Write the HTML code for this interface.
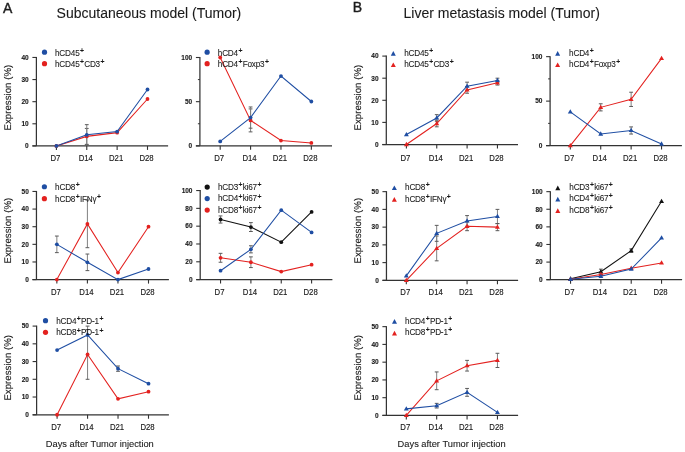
<!DOCTYPE html>
<html><head><meta charset="utf-8"><style>
html,body{margin:0;padding:0;background:#fff;}
svg{display:block;will-change:transform;}
text{font-family:"Liberation Sans", sans-serif;fill:#1a1a1a;}
.tl{font-size:6.5px;font-weight:bold;stroke:#1a1a1a;stroke-width:0.12px;}
.xl{font-size:8.6px;stroke:#1a1a1a;stroke-width:0.15px;}
.lg{font-size:8.2px;letter-spacing:-0.2px;stroke:#1a1a1a;stroke-width:0.08px;}
.sp{font-size:6.8px;font-weight:bold;letter-spacing:0;}
.yt{text-rendering:geometricPrecision;font-size:9.7px;stroke:#1a1a1a;stroke-width:0.12px;}
.ti{font-size:14px;stroke:#1a1a1a;stroke-width:0.1px;}
.pl{font-size:14px;stroke:#222;stroke-width:0.4px;}
.dx{font-size:9.3px;stroke:#1a1a1a;stroke-width:0.1px;}
</style></head><body>
<svg width="685" height="452" viewBox="0 0 685 452">
<text x="3.1" y="12.7" class="pl">A</text>
<text x="56.6" y="17.8" class="ti">Subcutaneous model (Tumor)</text>
<text x="352.7" y="11.9" class="pl">B</text>
<text x="403.5" y="18.1" class="ti">Liver metastasis model (Tumor)</text>
<text x="99.8" y="446.7" text-anchor="middle" class="dx">Days after Tumor injection</text>
<text x="451.6" y="446.7" text-anchor="middle" class="dx">Days after Tumor injection</text>
<line x1="36.4" y1="56.95" x2="36.4" y2="145.9" stroke="#333333" stroke-width="1.25"/>
<line x1="32.4" y1="145.9" x2="168.1" y2="145.9" stroke="#333333" stroke-width="1.25"/>
<line x1="32.4" y1="145.9" x2="36.4" y2="145.9" stroke="#333333" stroke-width="1.1"/>
<text x="28.7" y="148.2" text-anchor="end" class="tl">0</text>
<line x1="32.4" y1="123.79" x2="36.4" y2="123.79" stroke="#333333" stroke-width="1.1"/>
<text x="28.7" y="126.09" text-anchor="end" class="tl">10</text>
<line x1="32.4" y1="101.68" x2="36.4" y2="101.68" stroke="#333333" stroke-width="1.1"/>
<text x="28.7" y="103.98" text-anchor="end" class="tl">20</text>
<line x1="32.4" y1="79.56" x2="36.4" y2="79.56" stroke="#333333" stroke-width="1.1"/>
<text x="28.7" y="81.86" text-anchor="end" class="tl">30</text>
<line x1="32.4" y1="57.45" x2="36.4" y2="57.45" stroke="#333333" stroke-width="1.1"/>
<text x="28.7" y="59.75" text-anchor="end" class="tl">40</text>
<line x1="56.4" y1="145.9" x2="56.4" y2="149.9" stroke="#333333" stroke-width="1.1"/>
<text transform="translate(55.4,160.7) scale(0.9,1)" text-anchor="middle" class="xl">D7</text>
<line x1="86.77" y1="145.9" x2="86.77" y2="149.9" stroke="#333333" stroke-width="1.1"/>
<text transform="translate(85.77,160.7) scale(0.9,1)" text-anchor="middle" class="xl">D14</text>
<line x1="117.13" y1="145.9" x2="117.13" y2="149.9" stroke="#333333" stroke-width="1.1"/>
<text transform="translate(116.13,160.7) scale(0.9,1)" text-anchor="middle" class="xl">D21</text>
<line x1="147.5" y1="145.9" x2="147.5" y2="149.9" stroke="#333333" stroke-width="1.1"/>
<text transform="translate(146.5,160.7) scale(0.9,1)" text-anchor="middle" class="xl">D28</text>
<line x1="86.77" y1="128.43" x2="86.77" y2="144.35" stroke="#808080" stroke-width="1"/>
<line x1="84.87" y1="128.43" x2="88.67" y2="128.43" stroke="#5a5a5a" stroke-width="1"/>
<line x1="84.87" y1="144.35" x2="88.67" y2="144.35" stroke="#5a5a5a" stroke-width="1"/>
<line x1="86.77" y1="124.67" x2="86.77" y2="145.02" stroke="#808080" stroke-width="1"/>
<line x1="84.87" y1="124.67" x2="88.67" y2="124.67" stroke="#5a5a5a" stroke-width="1"/>
<line x1="84.87" y1="145.02" x2="88.67" y2="145.02" stroke="#5a5a5a" stroke-width="1"/>
<polyline points="56.4,145.9 86.77,136.39 117.13,132.63 147.5,99.02" fill="none" stroke="#e3211f" stroke-width="1.05"/>
<circle cx="56.4" cy="145.9" r="1.9" fill="#e3211f"/>
<circle cx="86.77" cy="136.39" r="1.9" fill="#e3211f"/>
<circle cx="117.13" cy="132.63" r="1.9" fill="#e3211f"/>
<circle cx="147.5" cy="99.02" r="1.9" fill="#e3211f"/>
<polyline points="56.4,145.9 86.77,134.84 117.13,131.53 147.5,89.51" fill="none" stroke="#1f4ea3" stroke-width="1.05"/>
<circle cx="56.4" cy="145.9" r="1.9" fill="#1f4ea3"/>
<circle cx="86.77" cy="134.84" r="1.9" fill="#1f4ea3"/>
<circle cx="117.13" cy="131.53" r="1.9" fill="#1f4ea3"/>
<circle cx="147.5" cy="89.51" r="1.9" fill="#1f4ea3"/>
<circle cx="44.5" cy="52.2" r="2.6" fill="#1f4ea3"/>
<text x="55" y="55.6" class="lg">hCD45<tspan class="sp" dx="0.5" dy="-2.85">+</tspan></text>
<circle cx="44.5" cy="63.7" r="2.6" fill="#e3211f"/>
<text x="55" y="67.1" class="lg">hCD45<tspan class="sp" dx="0.5" dy="-2.85">+</tspan><tspan dx="0.2" dy="2.85">CD3</tspan><tspan class="sp" dx="0.5" dy="-2.85">+</tspan></text>
<line x1="199.9" y1="57" x2="199.9" y2="145.85" stroke="#333333" stroke-width="1.25"/>
<line x1="195.9" y1="145.85" x2="332" y2="145.85" stroke="#333333" stroke-width="1.25"/>
<line x1="195.9" y1="145.85" x2="199.9" y2="145.85" stroke="#333333" stroke-width="1.1"/>
<text x="192.2" y="148.15" text-anchor="end" class="tl">0</text>
<line x1="195.9" y1="101.67" x2="199.9" y2="101.67" stroke="#333333" stroke-width="1.1"/>
<text x="192.2" y="103.97" text-anchor="end" class="tl">50</text>
<line x1="195.9" y1="57.5" x2="199.9" y2="57.5" stroke="#333333" stroke-width="1.1"/>
<text x="192.2" y="59.8" text-anchor="end" class="tl">100</text>
<line x1="197.9" y1="123.76" x2="199.9" y2="123.76" stroke="#333333" stroke-width="1"/>
<line x1="197.9" y1="79.59" x2="199.9" y2="79.59" stroke="#333333" stroke-width="1"/>
<line x1="220.2" y1="145.85" x2="220.2" y2="149.85" stroke="#333333" stroke-width="1.1"/>
<text transform="translate(219.2,160.7) scale(0.9,1)" text-anchor="middle" class="xl">D7</text>
<line x1="250.58" y1="145.85" x2="250.58" y2="149.85" stroke="#333333" stroke-width="1.1"/>
<text transform="translate(249.58,160.7) scale(0.9,1)" text-anchor="middle" class="xl">D14</text>
<line x1="280.97" y1="145.85" x2="280.97" y2="149.85" stroke="#333333" stroke-width="1.1"/>
<text transform="translate(279.97,160.7) scale(0.9,1)" text-anchor="middle" class="xl">D21</text>
<line x1="311.35" y1="145.85" x2="311.35" y2="149.85" stroke="#333333" stroke-width="1.1"/>
<text transform="translate(310.35,160.7) scale(0.9,1)" text-anchor="middle" class="xl">D28</text>
<line x1="250.58" y1="108.92" x2="250.58" y2="131.89" stroke="#808080" stroke-width="1"/>
<line x1="248.68" y1="108.92" x2="252.48" y2="108.92" stroke="#5a5a5a" stroke-width="1"/>
<line x1="248.68" y1="131.89" x2="252.48" y2="131.89" stroke="#5a5a5a" stroke-width="1"/>
<line x1="250.58" y1="106.98" x2="250.58" y2="128.18" stroke="#808080" stroke-width="1"/>
<line x1="248.68" y1="106.98" x2="252.48" y2="106.98" stroke="#5a5a5a" stroke-width="1"/>
<line x1="248.68" y1="128.18" x2="252.48" y2="128.18" stroke="#5a5a5a" stroke-width="1"/>
<polyline points="220.2,57.5 250.58,120.41 280.97,140.55 311.35,142.93" fill="none" stroke="#e3211f" stroke-width="1.05"/>
<circle cx="220.2" cy="57.5" r="1.9" fill="#e3211f"/>
<circle cx="250.58" cy="120.41" r="1.9" fill="#e3211f"/>
<circle cx="280.97" cy="140.55" r="1.9" fill="#e3211f"/>
<circle cx="311.35" cy="142.93" r="1.9" fill="#e3211f"/>
<polyline points="220.2,141.43 250.58,117.58 280.97,76.05 311.35,101.5" fill="none" stroke="#1f4ea3" stroke-width="1.05"/>
<circle cx="220.2" cy="141.43" r="1.9" fill="#1f4ea3"/>
<circle cx="250.58" cy="117.58" r="1.9" fill="#1f4ea3"/>
<circle cx="280.97" cy="76.05" r="1.9" fill="#1f4ea3"/>
<circle cx="311.35" cy="101.5" r="1.9" fill="#1f4ea3"/>
<circle cx="207.15" cy="52.2" r="2.6" fill="#1f4ea3"/>
<text x="217.8" y="55.6" class="lg">hCD4<tspan class="sp" dx="0.5" dy="-2.85">+</tspan></text>
<circle cx="207.15" cy="63.7" r="2.6" fill="#e3211f"/>
<text x="217.8" y="67.1" class="lg">hCD4<tspan class="sp" dx="0.5" dy="-2.85">+</tspan><tspan dx="0.2" dy="2.85">Foxp3</tspan><tspan class="sp" dx="0.5" dy="-2.85">+</tspan></text>
<line x1="386.3" y1="55.6" x2="386.3" y2="144.5" stroke="#333333" stroke-width="1.25"/>
<line x1="382.3" y1="144.5" x2="518" y2="144.5" stroke="#333333" stroke-width="1.25"/>
<line x1="382.3" y1="144.5" x2="386.3" y2="144.5" stroke="#333333" stroke-width="1.1"/>
<text x="378.6" y="146.8" text-anchor="end" class="tl">0</text>
<line x1="382.3" y1="122.4" x2="386.3" y2="122.4" stroke="#333333" stroke-width="1.1"/>
<text x="378.6" y="124.7" text-anchor="end" class="tl">10</text>
<line x1="382.3" y1="100.3" x2="386.3" y2="100.3" stroke="#333333" stroke-width="1.1"/>
<text x="378.6" y="102.6" text-anchor="end" class="tl">20</text>
<line x1="382.3" y1="78.2" x2="386.3" y2="78.2" stroke="#333333" stroke-width="1.1"/>
<text x="378.6" y="80.5" text-anchor="end" class="tl">30</text>
<line x1="382.3" y1="56.1" x2="386.3" y2="56.1" stroke="#333333" stroke-width="1.1"/>
<text x="378.6" y="58.4" text-anchor="end" class="tl">40</text>
<line x1="406.4" y1="144.5" x2="406.4" y2="148.5" stroke="#333333" stroke-width="1.1"/>
<text transform="translate(405.4,160.7) scale(0.9,1)" text-anchor="middle" class="xl">D7</text>
<line x1="436.75" y1="144.5" x2="436.75" y2="148.5" stroke="#333333" stroke-width="1.1"/>
<text transform="translate(435.75,160.7) scale(0.9,1)" text-anchor="middle" class="xl">D14</text>
<line x1="467.1" y1="144.5" x2="467.1" y2="148.5" stroke="#333333" stroke-width="1.1"/>
<text transform="translate(466.1,160.7) scale(0.9,1)" text-anchor="middle" class="xl">D21</text>
<line x1="497.45" y1="144.5" x2="497.45" y2="148.5" stroke="#333333" stroke-width="1.1"/>
<text transform="translate(496.45,160.7) scale(0.9,1)" text-anchor="middle" class="xl">D28</text>
<line x1="436.75" y1="120.19" x2="436.75" y2="126.82" stroke="#808080" stroke-width="1"/>
<line x1="434.85" y1="120.19" x2="438.65" y2="120.19" stroke="#5a5a5a" stroke-width="1"/>
<line x1="434.85" y1="126.82" x2="438.65" y2="126.82" stroke="#5a5a5a" stroke-width="1"/>
<line x1="467.1" y1="86.6" x2="467.1" y2="93.23" stroke="#808080" stroke-width="1"/>
<line x1="465.2" y1="86.6" x2="469" y2="86.6" stroke="#5a5a5a" stroke-width="1"/>
<line x1="465.2" y1="93.23" x2="469" y2="93.23" stroke="#5a5a5a" stroke-width="1"/>
<line x1="497.45" y1="80.63" x2="497.45" y2="85.05" stroke="#808080" stroke-width="1"/>
<line x1="495.55" y1="80.63" x2="499.35" y2="80.63" stroke="#5a5a5a" stroke-width="1"/>
<line x1="495.55" y1="85.05" x2="499.35" y2="85.05" stroke="#5a5a5a" stroke-width="1"/>
<line x1="436.75" y1="114.66" x2="436.75" y2="121.3" stroke="#808080" stroke-width="1"/>
<line x1="434.85" y1="114.66" x2="438.65" y2="114.66" stroke="#5a5a5a" stroke-width="1"/>
<line x1="434.85" y1="121.3" x2="438.65" y2="121.3" stroke="#5a5a5a" stroke-width="1"/>
<line x1="467.1" y1="82.18" x2="467.1" y2="90.13" stroke="#808080" stroke-width="1"/>
<line x1="465.2" y1="82.18" x2="469" y2="82.18" stroke="#5a5a5a" stroke-width="1"/>
<line x1="465.2" y1="90.13" x2="469" y2="90.13" stroke="#5a5a5a" stroke-width="1"/>
<line x1="497.45" y1="78.2" x2="497.45" y2="82.62" stroke="#808080" stroke-width="1"/>
<line x1="495.55" y1="78.2" x2="499.35" y2="78.2" stroke="#5a5a5a" stroke-width="1"/>
<line x1="495.55" y1="82.62" x2="499.35" y2="82.62" stroke="#5a5a5a" stroke-width="1"/>
<polyline points="406.4,144.5 436.75,123.5 467.1,89.91 497.45,82.84" fill="none" stroke="#e3211f" stroke-width="1.05"/>
<polygon points="406.4,141.83 408.85,146.13 403.95,146.13" fill="#e3211f"/>
<polygon points="436.75,120.84 439.2,125.14 434.3,125.14" fill="#e3211f"/>
<polygon points="467.1,87.25 469.55,91.55 464.65,91.55" fill="#e3211f"/>
<polygon points="497.45,80.17 499.9,84.47 495,84.47" fill="#e3211f"/>
<polyline points="406.4,134.56 436.75,117.98 467.1,86.16 497.45,80.41" fill="none" stroke="#1f4ea3" stroke-width="1.05"/>
<polygon points="406.4,131.89 408.85,136.19 403.95,136.19" fill="#1f4ea3"/>
<polygon points="436.75,115.31 439.2,119.61 434.3,119.61" fill="#1f4ea3"/>
<polygon points="467.1,83.49 469.55,87.79 464.65,87.79" fill="#1f4ea3"/>
<polygon points="497.45,77.74 499.9,82.04 495,82.04" fill="#1f4ea3"/>
<polygon points="393.3,51 395.8,55.7 390.8,55.7" fill="#1f4ea3"/>
<text x="404.2" y="55.6" class="lg">hCD45<tspan class="sp" dx="0.5" dy="-2.85">+</tspan></text>
<polygon points="393.3,62.4 395.8,67.1 390.8,67.1" fill="#e3211f"/>
<text x="404.2" y="67" class="lg">hCD45<tspan class="sp" dx="0.5" dy="-2.85">+</tspan><tspan dx="0.2" dy="2.85">CD3</tspan><tspan class="sp" dx="0.5" dy="-2.85">+</tspan></text>
<line x1="550.1" y1="56.15" x2="550.1" y2="145.6" stroke="#333333" stroke-width="1.25"/>
<line x1="546.1" y1="145.6" x2="681.9" y2="145.6" stroke="#333333" stroke-width="1.25"/>
<line x1="546.1" y1="145.6" x2="550.1" y2="145.6" stroke="#333333" stroke-width="1.1"/>
<text x="542.4" y="147.9" text-anchor="end" class="tl">0</text>
<line x1="546.1" y1="101.12" x2="550.1" y2="101.12" stroke="#333333" stroke-width="1.1"/>
<text x="542.4" y="103.42" text-anchor="end" class="tl">50</text>
<line x1="546.1" y1="56.65" x2="550.1" y2="56.65" stroke="#333333" stroke-width="1.1"/>
<text x="542.4" y="58.95" text-anchor="end" class="tl">100</text>
<line x1="548.1" y1="123.36" x2="550.1" y2="123.36" stroke="#333333" stroke-width="1"/>
<line x1="548.1" y1="78.89" x2="550.1" y2="78.89" stroke="#333333" stroke-width="1"/>
<line x1="570.3" y1="145.6" x2="570.3" y2="149.6" stroke="#333333" stroke-width="1.1"/>
<text transform="translate(569.3,160.7) scale(0.9,1)" text-anchor="middle" class="xl">D7</text>
<line x1="600.72" y1="145.6" x2="600.72" y2="149.6" stroke="#333333" stroke-width="1.1"/>
<text transform="translate(599.72,160.7) scale(0.9,1)" text-anchor="middle" class="xl">D14</text>
<line x1="631.13" y1="145.6" x2="631.13" y2="149.6" stroke="#333333" stroke-width="1.1"/>
<text transform="translate(630.13,160.7) scale(0.9,1)" text-anchor="middle" class="xl">D21</text>
<line x1="661.55" y1="145.6" x2="661.55" y2="149.6" stroke="#333333" stroke-width="1.1"/>
<text transform="translate(660.55,160.7) scale(0.9,1)" text-anchor="middle" class="xl">D28</text>
<line x1="600.72" y1="103.79" x2="600.72" y2="110.91" stroke="#808080" stroke-width="1"/>
<line x1="598.82" y1="103.79" x2="602.62" y2="103.79" stroke="#5a5a5a" stroke-width="1"/>
<line x1="598.82" y1="110.91" x2="602.62" y2="110.91" stroke="#5a5a5a" stroke-width="1"/>
<line x1="631.13" y1="92.23" x2="631.13" y2="106.46" stroke="#808080" stroke-width="1"/>
<line x1="629.23" y1="92.23" x2="633.03" y2="92.23" stroke="#5a5a5a" stroke-width="1"/>
<line x1="629.23" y1="106.46" x2="633.03" y2="106.46" stroke="#5a5a5a" stroke-width="1"/>
<line x1="631.13" y1="126.92" x2="631.13" y2="134.04" stroke="#808080" stroke-width="1"/>
<line x1="629.23" y1="126.92" x2="633.03" y2="126.92" stroke="#5a5a5a" stroke-width="1"/>
<line x1="629.23" y1="134.04" x2="633.03" y2="134.04" stroke="#5a5a5a" stroke-width="1"/>
<polyline points="570.3,145.6 600.72,107.35 631.13,99.35 661.55,58.43" fill="none" stroke="#e3211f" stroke-width="1.05"/>
<polygon points="570.3,142.93 572.75,147.23 567.85,147.23" fill="#e3211f"/>
<polygon points="600.72,104.69 603.17,108.99 598.27,108.99" fill="#e3211f"/>
<polygon points="631.13,96.68 633.58,100.98 628.68,100.98" fill="#e3211f"/>
<polygon points="661.55,55.76 664,60.06 659.1,60.06" fill="#e3211f"/>
<polyline points="570.3,111.8 600.72,134.04 631.13,130.48 661.55,144" fill="none" stroke="#1f4ea3" stroke-width="1.05"/>
<polygon points="570.3,109.13 572.75,113.43 567.85,113.43" fill="#1f4ea3"/>
<polygon points="600.72,131.37 603.17,135.67 598.27,135.67" fill="#1f4ea3"/>
<polygon points="631.13,127.81 633.58,132.11 628.68,132.11" fill="#1f4ea3"/>
<polygon points="661.55,141.33 664,145.63 659.1,145.63" fill="#1f4ea3"/>
<polygon points="557.65,51 560.15,55.7 555.15,55.7" fill="#1f4ea3"/>
<text x="569.1" y="55.6" class="lg">hCD4<tspan class="sp" dx="0.5" dy="-2.85">+</tspan></text>
<polygon points="557.65,62.4 560.15,67.1 555.15,67.1" fill="#e3211f"/>
<text x="569.1" y="67" class="lg">hCD4<tspan class="sp" dx="0.5" dy="-2.85">+</tspan><tspan dx="0.2" dy="2.85">Foxp3</tspan><tspan class="sp" dx="0.5" dy="-2.85">+</tspan></text>
<line x1="36.45" y1="190.95" x2="36.45" y2="279.6" stroke="#333333" stroke-width="1.25"/>
<line x1="32.45" y1="279.6" x2="168.9" y2="279.6" stroke="#333333" stroke-width="1.25"/>
<line x1="32.45" y1="279.6" x2="36.45" y2="279.6" stroke="#333333" stroke-width="1.1"/>
<text x="28.75" y="281.9" text-anchor="end" class="tl">0</text>
<line x1="32.45" y1="261.97" x2="36.45" y2="261.97" stroke="#333333" stroke-width="1.1"/>
<text x="28.75" y="264.27" text-anchor="end" class="tl">10</text>
<line x1="32.45" y1="244.34" x2="36.45" y2="244.34" stroke="#333333" stroke-width="1.1"/>
<text x="28.75" y="246.64" text-anchor="end" class="tl">20</text>
<line x1="32.45" y1="226.71" x2="36.45" y2="226.71" stroke="#333333" stroke-width="1.1"/>
<text x="28.75" y="229.01" text-anchor="end" class="tl">30</text>
<line x1="32.45" y1="209.08" x2="36.45" y2="209.08" stroke="#333333" stroke-width="1.1"/>
<text x="28.75" y="211.38" text-anchor="end" class="tl">40</text>
<line x1="32.45" y1="191.45" x2="36.45" y2="191.45" stroke="#333333" stroke-width="1.1"/>
<text x="28.75" y="193.75" text-anchor="end" class="tl">50</text>
<line x1="56.85" y1="279.6" x2="56.85" y2="283.6" stroke="#333333" stroke-width="1.1"/>
<text transform="translate(55.85,294.8) scale(0.9,1)" text-anchor="middle" class="xl">D7</text>
<line x1="87.4" y1="279.6" x2="87.4" y2="283.6" stroke="#333333" stroke-width="1.1"/>
<text transform="translate(86.4,294.8) scale(0.9,1)" text-anchor="middle" class="xl">D14</text>
<line x1="117.95" y1="279.6" x2="117.95" y2="283.6" stroke="#333333" stroke-width="1.1"/>
<text transform="translate(116.95,294.8) scale(0.9,1)" text-anchor="middle" class="xl">D21</text>
<line x1="148.5" y1="279.6" x2="148.5" y2="283.6" stroke="#333333" stroke-width="1.1"/>
<text transform="translate(147.5,294.8) scale(0.9,1)" text-anchor="middle" class="xl">D28</text>
<line x1="87.4" y1="200.09" x2="87.4" y2="247.69" stroke="#808080" stroke-width="1"/>
<line x1="85.5" y1="200.09" x2="89.3" y2="200.09" stroke="#5a5a5a" stroke-width="1"/>
<line x1="85.5" y1="247.69" x2="89.3" y2="247.69" stroke="#5a5a5a" stroke-width="1"/>
<line x1="56.85" y1="236.05" x2="56.85" y2="252.63" stroke="#808080" stroke-width="1"/>
<line x1="54.95" y1="236.05" x2="58.75" y2="236.05" stroke="#5a5a5a" stroke-width="1"/>
<line x1="54.95" y1="252.63" x2="58.75" y2="252.63" stroke="#5a5a5a" stroke-width="1"/>
<line x1="87.4" y1="254.04" x2="87.4" y2="270.61" stroke="#808080" stroke-width="1"/>
<line x1="85.5" y1="254.04" x2="89.3" y2="254.04" stroke="#5a5a5a" stroke-width="1"/>
<line x1="85.5" y1="270.61" x2="89.3" y2="270.61" stroke="#5a5a5a" stroke-width="1"/>
<polyline points="56.85,279.6 87.4,223.89 117.95,272.55 148.5,226.71" fill="none" stroke="#e3211f" stroke-width="1.05"/>
<circle cx="56.85" cy="279.6" r="1.9" fill="#e3211f"/>
<circle cx="87.4" cy="223.89" r="1.9" fill="#e3211f"/>
<circle cx="117.95" cy="272.55" r="1.9" fill="#e3211f"/>
<circle cx="148.5" cy="226.71" r="1.9" fill="#e3211f"/>
<polyline points="56.85,244.34 87.4,262.32 117.95,279.6 148.5,269.02" fill="none" stroke="#1f4ea3" stroke-width="1.05"/>
<circle cx="56.85" cy="244.34" r="1.9" fill="#1f4ea3"/>
<circle cx="87.4" cy="262.32" r="1.9" fill="#1f4ea3"/>
<circle cx="117.95" cy="279.6" r="1.9" fill="#1f4ea3"/>
<circle cx="148.5" cy="269.02" r="1.9" fill="#1f4ea3"/>
<circle cx="44.4" cy="186.75" r="2.6" fill="#1f4ea3"/>
<text x="55.1" y="189.8" class="lg">hCD8<tspan class="sp" dx="0.5" dy="-2.85">+</tspan></text>
<circle cx="44.4" cy="198.65" r="2.6" fill="#e3211f"/>
<text x="55.1" y="201.7" class="lg">hCD8<tspan class="sp" dx="0.5" dy="-2.85">+</tspan><tspan dx="0.2" dy="2.85">IFNγ</tspan><tspan class="sp" dx="0.5" dy="-2.85">+</tspan></text>
<line x1="200.2" y1="190.05" x2="200.2" y2="279.6" stroke="#333333" stroke-width="1.25"/>
<line x1="196.2" y1="279.6" x2="332.4" y2="279.6" stroke="#333333" stroke-width="1.25"/>
<line x1="196.2" y1="279.6" x2="200.2" y2="279.6" stroke="#333333" stroke-width="1.1"/>
<text x="192.5" y="281.9" text-anchor="end" class="tl">0</text>
<line x1="196.2" y1="261.79" x2="200.2" y2="261.79" stroke="#333333" stroke-width="1.1"/>
<text x="192.5" y="264.09" text-anchor="end" class="tl">20</text>
<line x1="196.2" y1="243.98" x2="200.2" y2="243.98" stroke="#333333" stroke-width="1.1"/>
<text x="192.5" y="246.28" text-anchor="end" class="tl">40</text>
<line x1="196.2" y1="226.17" x2="200.2" y2="226.17" stroke="#333333" stroke-width="1.1"/>
<text x="192.5" y="228.47" text-anchor="end" class="tl">60</text>
<line x1="196.2" y1="208.36" x2="200.2" y2="208.36" stroke="#333333" stroke-width="1.1"/>
<text x="192.5" y="210.66" text-anchor="end" class="tl">80</text>
<line x1="196.2" y1="190.55" x2="200.2" y2="190.55" stroke="#333333" stroke-width="1.1"/>
<text x="192.5" y="192.85" text-anchor="end" class="tl">100</text>
<line x1="220.55" y1="279.6" x2="220.55" y2="283.6" stroke="#333333" stroke-width="1.1"/>
<text transform="translate(219.55,294.8) scale(0.9,1)" text-anchor="middle" class="xl">D7</text>
<line x1="250.9" y1="279.6" x2="250.9" y2="283.6" stroke="#333333" stroke-width="1.1"/>
<text transform="translate(249.9,294.8) scale(0.9,1)" text-anchor="middle" class="xl">D14</text>
<line x1="281.25" y1="279.6" x2="281.25" y2="283.6" stroke="#333333" stroke-width="1.1"/>
<text transform="translate(280.25,294.8) scale(0.9,1)" text-anchor="middle" class="xl">D21</text>
<line x1="311.6" y1="279.6" x2="311.6" y2="283.6" stroke="#333333" stroke-width="1.1"/>
<text transform="translate(310.6,294.8) scale(0.9,1)" text-anchor="middle" class="xl">D28</text>
<line x1="220.55" y1="215.93" x2="220.55" y2="223.05" stroke="#808080" stroke-width="1"/>
<line x1="218.65" y1="215.93" x2="222.45" y2="215.93" stroke="#5a5a5a" stroke-width="1"/>
<line x1="218.65" y1="223.05" x2="222.45" y2="223.05" stroke="#5a5a5a" stroke-width="1"/>
<line x1="250.9" y1="222.61" x2="250.9" y2="231.51" stroke="#808080" stroke-width="1"/>
<line x1="249" y1="222.61" x2="252.8" y2="222.61" stroke="#5a5a5a" stroke-width="1"/>
<line x1="249" y1="231.51" x2="252.8" y2="231.51" stroke="#5a5a5a" stroke-width="1"/>
<line x1="220.55" y1="253.33" x2="220.55" y2="262.24" stroke="#808080" stroke-width="1"/>
<line x1="218.65" y1="253.33" x2="222.45" y2="253.33" stroke="#5a5a5a" stroke-width="1"/>
<line x1="218.65" y1="262.24" x2="222.45" y2="262.24" stroke="#5a5a5a" stroke-width="1"/>
<line x1="250.9" y1="256.89" x2="250.9" y2="267.58" stroke="#808080" stroke-width="1"/>
<line x1="249" y1="256.89" x2="252.8" y2="256.89" stroke="#5a5a5a" stroke-width="1"/>
<line x1="249" y1="267.58" x2="252.8" y2="267.58" stroke="#5a5a5a" stroke-width="1"/>
<line x1="250.9" y1="245.76" x2="250.9" y2="252.89" stroke="#808080" stroke-width="1"/>
<line x1="249" y1="245.76" x2="252.8" y2="245.76" stroke="#5a5a5a" stroke-width="1"/>
<line x1="249" y1="252.89" x2="252.8" y2="252.89" stroke="#5a5a5a" stroke-width="1"/>
<polyline points="220.55,219.49 250.9,227.06 281.25,242.2 311.6,211.92" fill="none" stroke="#111111" stroke-width="1.05"/>
<circle cx="220.55" cy="219.49" r="1.9" fill="#111111"/>
<circle cx="250.9" cy="227.06" r="1.9" fill="#111111"/>
<circle cx="281.25" cy="242.2" r="1.9" fill="#111111"/>
<circle cx="311.6" cy="211.92" r="1.9" fill="#111111"/>
<polyline points="220.55,257.78 250.9,262.24 281.25,271.59 311.6,264.64" fill="none" stroke="#e3211f" stroke-width="1.05"/>
<circle cx="220.55" cy="257.78" r="1.9" fill="#e3211f"/>
<circle cx="250.9" cy="262.24" r="1.9" fill="#e3211f"/>
<circle cx="281.25" cy="271.59" r="1.9" fill="#e3211f"/>
<circle cx="311.6" cy="264.64" r="1.9" fill="#e3211f"/>
<polyline points="220.55,270.7 250.9,249.32 281.25,210.14 311.6,232.4" fill="none" stroke="#1f4ea3" stroke-width="1.05"/>
<circle cx="220.55" cy="270.7" r="1.9" fill="#1f4ea3"/>
<circle cx="250.9" cy="249.32" r="1.9" fill="#1f4ea3"/>
<circle cx="281.25" cy="210.14" r="1.9" fill="#1f4ea3"/>
<circle cx="311.6" cy="232.4" r="1.9" fill="#1f4ea3"/>
<circle cx="207.2" cy="187.1" r="2.6" fill="#111111"/>
<text x="217.9" y="189.9" class="lg">hCD3<tspan class="sp" dx="0.5" dy="-2.85">+</tspan><tspan dx="0.2" dy="2.85">ki67</tspan><tspan class="sp" dx="0.5" dy="-2.85">+</tspan></text>
<circle cx="207.2" cy="198.6" r="2.6" fill="#1f4ea3"/>
<text x="217.9" y="201.4" class="lg">hCD4<tspan class="sp" dx="0.5" dy="-2.85">+</tspan><tspan dx="0.2" dy="2.85">ki67</tspan><tspan class="sp" dx="0.5" dy="-2.85">+</tspan></text>
<circle cx="207.2" cy="210.1" r="2.6" fill="#e3211f"/>
<text x="217.9" y="212.9" class="lg">hCD8<tspan class="sp" dx="0.5" dy="-2.85">+</tspan><tspan dx="0.2" dy="2.85">ki67</tspan><tspan class="sp" dx="0.5" dy="-2.85">+</tspan></text>
<line x1="386.45" y1="191.15" x2="386.45" y2="280.35" stroke="#333333" stroke-width="1.25"/>
<line x1="382.45" y1="280.35" x2="518.1" y2="280.35" stroke="#333333" stroke-width="1.25"/>
<line x1="382.45" y1="280.35" x2="386.45" y2="280.35" stroke="#333333" stroke-width="1.1"/>
<text x="378.75" y="282.65" text-anchor="end" class="tl">0</text>
<line x1="382.45" y1="262.61" x2="386.45" y2="262.61" stroke="#333333" stroke-width="1.1"/>
<text x="378.75" y="264.91" text-anchor="end" class="tl">10</text>
<line x1="382.45" y1="244.87" x2="386.45" y2="244.87" stroke="#333333" stroke-width="1.1"/>
<text x="378.75" y="247.17" text-anchor="end" class="tl">20</text>
<line x1="382.45" y1="227.13" x2="386.45" y2="227.13" stroke="#333333" stroke-width="1.1"/>
<text x="378.75" y="229.43" text-anchor="end" class="tl">30</text>
<line x1="382.45" y1="209.39" x2="386.45" y2="209.39" stroke="#333333" stroke-width="1.1"/>
<text x="378.75" y="211.69" text-anchor="end" class="tl">40</text>
<line x1="382.45" y1="191.65" x2="386.45" y2="191.65" stroke="#333333" stroke-width="1.1"/>
<text x="378.75" y="193.95" text-anchor="end" class="tl">50</text>
<line x1="406.3" y1="280.35" x2="406.3" y2="284.35" stroke="#333333" stroke-width="1.1"/>
<text transform="translate(405.3,294.8) scale(0.9,1)" text-anchor="middle" class="xl">D7</text>
<line x1="436.68" y1="280.35" x2="436.68" y2="284.35" stroke="#333333" stroke-width="1.1"/>
<text transform="translate(435.68,294.8) scale(0.9,1)" text-anchor="middle" class="xl">D14</text>
<line x1="467.07" y1="280.35" x2="467.07" y2="284.35" stroke="#333333" stroke-width="1.1"/>
<text transform="translate(466.07,294.8) scale(0.9,1)" text-anchor="middle" class="xl">D21</text>
<line x1="497.45" y1="280.35" x2="497.45" y2="284.35" stroke="#333333" stroke-width="1.1"/>
<text transform="translate(496.45,294.8) scale(0.9,1)" text-anchor="middle" class="xl">D28</text>
<line x1="436.68" y1="236" x2="436.68" y2="260.84" stroke="#808080" stroke-width="1"/>
<line x1="434.78" y1="236" x2="438.58" y2="236" stroke="#5a5a5a" stroke-width="1"/>
<line x1="434.78" y1="260.84" x2="438.58" y2="260.84" stroke="#5a5a5a" stroke-width="1"/>
<line x1="467.07" y1="221.81" x2="467.07" y2="230.68" stroke="#808080" stroke-width="1"/>
<line x1="465.17" y1="221.81" x2="468.97" y2="221.81" stroke="#5a5a5a" stroke-width="1"/>
<line x1="465.17" y1="230.68" x2="468.97" y2="230.68" stroke="#5a5a5a" stroke-width="1"/>
<line x1="497.45" y1="223.58" x2="497.45" y2="230.68" stroke="#808080" stroke-width="1"/>
<line x1="495.55" y1="223.58" x2="499.35" y2="223.58" stroke="#5a5a5a" stroke-width="1"/>
<line x1="495.55" y1="230.68" x2="499.35" y2="230.68" stroke="#5a5a5a" stroke-width="1"/>
<line x1="436.68" y1="225.36" x2="436.68" y2="241.32" stroke="#808080" stroke-width="1"/>
<line x1="434.78" y1="225.36" x2="438.58" y2="225.36" stroke="#5a5a5a" stroke-width="1"/>
<line x1="434.78" y1="241.32" x2="438.58" y2="241.32" stroke="#5a5a5a" stroke-width="1"/>
<line x1="467.07" y1="215.6" x2="467.07" y2="226.24" stroke="#808080" stroke-width="1"/>
<line x1="465.17" y1="215.6" x2="468.97" y2="215.6" stroke="#5a5a5a" stroke-width="1"/>
<line x1="465.17" y1="226.24" x2="468.97" y2="226.24" stroke="#5a5a5a" stroke-width="1"/>
<line x1="497.45" y1="209.39" x2="497.45" y2="223.58" stroke="#808080" stroke-width="1"/>
<line x1="495.55" y1="209.39" x2="499.35" y2="209.39" stroke="#5a5a5a" stroke-width="1"/>
<line x1="495.55" y1="223.58" x2="499.35" y2="223.58" stroke="#5a5a5a" stroke-width="1"/>
<polyline points="406.3,280.35 436.68,248.42 467.07,226.24 497.45,227.13" fill="none" stroke="#e3211f" stroke-width="1.05"/>
<polygon points="406.3,277.68 408.75,281.98 403.85,281.98" fill="#e3211f"/>
<polygon points="436.68,245.75 439.13,250.05 434.23,250.05" fill="#e3211f"/>
<polygon points="467.07,223.58 469.52,227.88 464.62,227.88" fill="#e3211f"/>
<polygon points="497.45,224.46 499.9,228.76 495,228.76" fill="#e3211f"/>
<polyline points="406.3,275.92 436.68,233.34 467.07,220.92 497.45,216.49" fill="none" stroke="#1f4ea3" stroke-width="1.05"/>
<polygon points="406.3,273.25 408.75,277.55 403.85,277.55" fill="#1f4ea3"/>
<polygon points="436.68,230.67 439.13,234.97 434.23,234.97" fill="#1f4ea3"/>
<polygon points="467.07,218.25 469.52,222.55 464.62,222.55" fill="#1f4ea3"/>
<polygon points="497.45,213.82 499.9,218.12 495,218.12" fill="#1f4ea3"/>
<polygon points="394.35,185.4 396.85,190.1 391.85,190.1" fill="#1f4ea3"/>
<text x="405.05" y="190" class="lg">hCD8<tspan class="sp" dx="0.5" dy="-2.85">+</tspan></text>
<polygon points="394.35,197.1 396.85,201.8 391.85,201.8" fill="#e3211f"/>
<text x="405.05" y="201.7" class="lg">hCD8<tspan class="sp" dx="0.5" dy="-2.85">+</tspan><tspan dx="0.2" dy="2.85">IFNγ</tspan><tspan class="sp" dx="0.5" dy="-2.85">+</tspan></text>
<line x1="550.35" y1="191.15" x2="550.35" y2="279.7" stroke="#333333" stroke-width="1.25"/>
<line x1="546.35" y1="279.7" x2="682.1" y2="279.7" stroke="#333333" stroke-width="1.25"/>
<line x1="546.35" y1="279.7" x2="550.35" y2="279.7" stroke="#333333" stroke-width="1.1"/>
<text x="542.65" y="282" text-anchor="end" class="tl">0</text>
<line x1="546.35" y1="262.09" x2="550.35" y2="262.09" stroke="#333333" stroke-width="1.1"/>
<text x="542.65" y="264.39" text-anchor="end" class="tl">20</text>
<line x1="546.35" y1="244.48" x2="550.35" y2="244.48" stroke="#333333" stroke-width="1.1"/>
<text x="542.65" y="246.78" text-anchor="end" class="tl">40</text>
<line x1="546.35" y1="226.87" x2="550.35" y2="226.87" stroke="#333333" stroke-width="1.1"/>
<text x="542.65" y="229.17" text-anchor="end" class="tl">60</text>
<line x1="546.35" y1="209.26" x2="550.35" y2="209.26" stroke="#333333" stroke-width="1.1"/>
<text x="542.65" y="211.56" text-anchor="end" class="tl">80</text>
<line x1="546.35" y1="191.65" x2="550.35" y2="191.65" stroke="#333333" stroke-width="1.1"/>
<text x="542.65" y="193.95" text-anchor="end" class="tl">100</text>
<line x1="570.55" y1="279.7" x2="570.55" y2="283.7" stroke="#333333" stroke-width="1.1"/>
<text transform="translate(569.55,294.8) scale(0.9,1)" text-anchor="middle" class="xl">D7</text>
<line x1="600.88" y1="279.7" x2="600.88" y2="283.7" stroke="#333333" stroke-width="1.1"/>
<text transform="translate(599.88,294.8) scale(0.9,1)" text-anchor="middle" class="xl">D14</text>
<line x1="631.22" y1="279.7" x2="631.22" y2="283.7" stroke="#333333" stroke-width="1.1"/>
<text transform="translate(630.22,294.8) scale(0.9,1)" text-anchor="middle" class="xl">D21</text>
<line x1="661.55" y1="279.7" x2="661.55" y2="283.7" stroke="#333333" stroke-width="1.1"/>
<text transform="translate(660.55,294.8) scale(0.9,1)" text-anchor="middle" class="xl">D28</text>
<line x1="600.88" y1="269.13" x2="600.88" y2="274.42" stroke="#808080" stroke-width="1"/>
<line x1="598.98" y1="269.13" x2="602.78" y2="269.13" stroke="#5a5a5a" stroke-width="1"/>
<line x1="598.98" y1="274.42" x2="602.78" y2="274.42" stroke="#5a5a5a" stroke-width="1"/>
<line x1="631.22" y1="248.88" x2="631.22" y2="252.4" stroke="#808080" stroke-width="1"/>
<line x1="629.32" y1="248.88" x2="633.12" y2="248.88" stroke="#5a5a5a" stroke-width="1"/>
<line x1="629.32" y1="252.4" x2="633.12" y2="252.4" stroke="#5a5a5a" stroke-width="1"/>
<polyline points="570.55,278.82 600.88,271.78 631.22,250.64 661.55,201.34" fill="none" stroke="#111111" stroke-width="1.05"/>
<polygon points="570.55,276.15 573,280.45 568.1,280.45" fill="#111111"/>
<polygon points="600.88,269.11 603.33,273.41 598.43,273.41" fill="#111111"/>
<polygon points="631.22,247.98 633.67,252.28 628.77,252.28" fill="#111111"/>
<polygon points="661.55,198.67 664,202.97 659.1,202.97" fill="#111111"/>
<polyline points="570.55,279.26 600.88,274.42 631.22,268.25 661.55,262.97" fill="none" stroke="#e3211f" stroke-width="1.05"/>
<polygon points="570.55,276.59 573,280.89 568.1,280.89" fill="#e3211f"/>
<polygon points="600.88,271.75 603.33,276.05 598.43,276.05" fill="#e3211f"/>
<polygon points="631.22,265.59 633.67,269.89 628.77,269.89" fill="#e3211f"/>
<polygon points="661.55,260.3 664,264.6 659.1,264.6" fill="#e3211f"/>
<polyline points="570.55,279.26 600.88,276.35 631.22,269.13 661.55,237.88" fill="none" stroke="#1f4ea3" stroke-width="1.05"/>
<polygon points="570.55,276.59 573,280.89 568.1,280.89" fill="#1f4ea3"/>
<polygon points="600.88,273.69 603.33,277.99 598.43,277.99" fill="#1f4ea3"/>
<polygon points="631.22,266.47 633.67,270.77 628.77,270.77" fill="#1f4ea3"/>
<polygon points="661.55,235.21 664,239.51 659.1,239.51" fill="#1f4ea3"/>
<polygon points="557.8,185.6 560.3,190.3 555.3,190.3" fill="#111111"/>
<text x="569.3" y="190.2" class="lg">hCD3<tspan class="sp" dx="0.5" dy="-2.85">+</tspan><tspan dx="0.2" dy="2.85">ki67</tspan><tspan class="sp" dx="0.5" dy="-2.85">+</tspan></text>
<polygon points="557.8,196.7 560.3,201.4 555.3,201.4" fill="#1f4ea3"/>
<text x="569.3" y="201.3" class="lg">hCD4<tspan class="sp" dx="0.5" dy="-2.85">+</tspan><tspan dx="0.2" dy="2.85">ki67</tspan><tspan class="sp" dx="0.5" dy="-2.85">+</tspan></text>
<polygon points="557.8,208.3 560.3,213 555.3,213" fill="#e3211f"/>
<text x="569.3" y="212.9" class="lg">hCD8<tspan class="sp" dx="0.5" dy="-2.85">+</tspan><tspan dx="0.2" dy="2.85">ki67</tspan><tspan class="sp" dx="0.5" dy="-2.85">+</tspan></text>
<line x1="36.6" y1="325.6" x2="36.6" y2="414.75" stroke="#333333" stroke-width="1.25"/>
<line x1="32.6" y1="414.75" x2="168.9" y2="414.75" stroke="#333333" stroke-width="1.25"/>
<line x1="32.6" y1="414.75" x2="36.6" y2="414.75" stroke="#333333" stroke-width="1.1"/>
<text x="28.9" y="417.05" text-anchor="end" class="tl">0</text>
<line x1="32.6" y1="397.02" x2="36.6" y2="397.02" stroke="#333333" stroke-width="1.1"/>
<text x="28.9" y="399.32" text-anchor="end" class="tl">10</text>
<line x1="32.6" y1="379.29" x2="36.6" y2="379.29" stroke="#333333" stroke-width="1.1"/>
<text x="28.9" y="381.59" text-anchor="end" class="tl">20</text>
<line x1="32.6" y1="361.56" x2="36.6" y2="361.56" stroke="#333333" stroke-width="1.1"/>
<text x="28.9" y="363.86" text-anchor="end" class="tl">30</text>
<line x1="32.6" y1="343.83" x2="36.6" y2="343.83" stroke="#333333" stroke-width="1.1"/>
<text x="28.9" y="346.13" text-anchor="end" class="tl">40</text>
<line x1="32.6" y1="326.1" x2="36.6" y2="326.1" stroke="#333333" stroke-width="1.1"/>
<text x="28.9" y="328.4" text-anchor="end" class="tl">50</text>
<line x1="57.1" y1="414.75" x2="57.1" y2="418.75" stroke="#333333" stroke-width="1.1"/>
<text transform="translate(56.1,430.2) scale(0.9,1)" text-anchor="middle" class="xl">D7</text>
<line x1="87.57" y1="414.75" x2="87.57" y2="418.75" stroke="#333333" stroke-width="1.1"/>
<text transform="translate(86.57,430.2) scale(0.9,1)" text-anchor="middle" class="xl">D14</text>
<line x1="118.03" y1="414.75" x2="118.03" y2="418.75" stroke="#333333" stroke-width="1.1"/>
<text transform="translate(117.03,430.2) scale(0.9,1)" text-anchor="middle" class="xl">D21</text>
<line x1="148.5" y1="414.75" x2="148.5" y2="418.75" stroke="#333333" stroke-width="1.1"/>
<text transform="translate(147.5,430.2) scale(0.9,1)" text-anchor="middle" class="xl">D28</text>
<line x1="87.57" y1="329.65" x2="87.57" y2="379.29" stroke="#808080" stroke-width="1"/>
<line x1="85.67" y1="329.65" x2="89.47" y2="329.65" stroke="#5a5a5a" stroke-width="1"/>
<line x1="85.67" y1="379.29" x2="89.47" y2="379.29" stroke="#5a5a5a" stroke-width="1"/>
<line x1="87.57" y1="326.1" x2="87.57" y2="334.97" stroke="#808080" stroke-width="1"/>
<line x1="85.67" y1="326.1" x2="89.47" y2="326.1" stroke="#5a5a5a" stroke-width="1"/>
<line x1="118.03" y1="365.99" x2="118.03" y2="371.31" stroke="#808080" stroke-width="1"/>
<line x1="116.13" y1="365.99" x2="119.93" y2="365.99" stroke="#5a5a5a" stroke-width="1"/>
<line x1="116.13" y1="371.31" x2="119.93" y2="371.31" stroke="#5a5a5a" stroke-width="1"/>
<polyline points="57.1,414.75 87.57,354.47 118.03,398.79 148.5,391.7" fill="none" stroke="#e3211f" stroke-width="1.05"/>
<circle cx="57.1" cy="414.75" r="1.9" fill="#e3211f"/>
<circle cx="87.57" cy="354.47" r="1.9" fill="#e3211f"/>
<circle cx="118.03" cy="398.79" r="1.9" fill="#e3211f"/>
<circle cx="148.5" cy="391.7" r="1.9" fill="#e3211f"/>
<polyline points="57.1,350.04 87.57,334.97 118.03,368.65 148.5,383.72" fill="none" stroke="#1f4ea3" stroke-width="1.05"/>
<circle cx="57.1" cy="350.04" r="1.9" fill="#1f4ea3"/>
<circle cx="87.57" cy="334.97" r="1.9" fill="#1f4ea3"/>
<circle cx="118.03" cy="368.65" r="1.9" fill="#1f4ea3"/>
<circle cx="148.5" cy="383.72" r="1.9" fill="#1f4ea3"/>
<circle cx="45.5" cy="320.65" r="2.6" fill="#1f4ea3"/>
<text x="56.2" y="323.7" class="lg">hCD4<tspan class="sp" dx="0.5" dy="-2.85">+</tspan><tspan dx="0.2" dy="2.85">PD-1</tspan><tspan class="sp" dx="0.5" dy="-2.85">+</tspan></text>
<circle cx="45.5" cy="332.35" r="2.6" fill="#e3211f"/>
<text x="56.2" y="335.4" class="lg">hCD8<tspan class="sp" dx="0.5" dy="-2.85">+</tspan><tspan dx="0.2" dy="2.85">PD-1</tspan><tspan class="sp" dx="0.5" dy="-2.85">+</tspan></text>
<line x1="386.4" y1="326.15" x2="386.4" y2="415.45" stroke="#333333" stroke-width="1.25"/>
<line x1="382.4" y1="415.45" x2="518.1" y2="415.45" stroke="#333333" stroke-width="1.25"/>
<line x1="382.4" y1="415.45" x2="386.4" y2="415.45" stroke="#333333" stroke-width="1.1"/>
<text x="378.7" y="417.75" text-anchor="end" class="tl">0</text>
<line x1="382.4" y1="397.69" x2="386.4" y2="397.69" stroke="#333333" stroke-width="1.1"/>
<text x="378.7" y="399.99" text-anchor="end" class="tl">10</text>
<line x1="382.4" y1="379.93" x2="386.4" y2="379.93" stroke="#333333" stroke-width="1.1"/>
<text x="378.7" y="382.23" text-anchor="end" class="tl">20</text>
<line x1="382.4" y1="362.17" x2="386.4" y2="362.17" stroke="#333333" stroke-width="1.1"/>
<text x="378.7" y="364.47" text-anchor="end" class="tl">30</text>
<line x1="382.4" y1="344.41" x2="386.4" y2="344.41" stroke="#333333" stroke-width="1.1"/>
<text x="378.7" y="346.71" text-anchor="end" class="tl">40</text>
<line x1="382.4" y1="326.65" x2="386.4" y2="326.65" stroke="#333333" stroke-width="1.1"/>
<text x="378.7" y="328.95" text-anchor="end" class="tl">50</text>
<line x1="406.3" y1="415.45" x2="406.3" y2="419.45" stroke="#333333" stroke-width="1.1"/>
<text transform="translate(405.3,430.2) scale(0.9,1)" text-anchor="middle" class="xl">D7</text>
<line x1="436.68" y1="415.45" x2="436.68" y2="419.45" stroke="#333333" stroke-width="1.1"/>
<text transform="translate(435.68,430.2) scale(0.9,1)" text-anchor="middle" class="xl">D14</text>
<line x1="467.07" y1="415.45" x2="467.07" y2="419.45" stroke="#333333" stroke-width="1.1"/>
<text transform="translate(466.07,430.2) scale(0.9,1)" text-anchor="middle" class="xl">D21</text>
<line x1="497.45" y1="415.45" x2="497.45" y2="419.45" stroke="#333333" stroke-width="1.1"/>
<text transform="translate(496.45,430.2) scale(0.9,1)" text-anchor="middle" class="xl">D28</text>
<line x1="436.68" y1="371.94" x2="436.68" y2="389.7" stroke="#808080" stroke-width="1"/>
<line x1="434.78" y1="371.94" x2="438.58" y2="371.94" stroke="#5a5a5a" stroke-width="1"/>
<line x1="434.78" y1="389.7" x2="438.58" y2="389.7" stroke="#5a5a5a" stroke-width="1"/>
<line x1="467.07" y1="360.39" x2="467.07" y2="371.05" stroke="#808080" stroke-width="1"/>
<line x1="465.17" y1="360.39" x2="468.97" y2="360.39" stroke="#5a5a5a" stroke-width="1"/>
<line x1="465.17" y1="371.05" x2="468.97" y2="371.05" stroke="#5a5a5a" stroke-width="1"/>
<line x1="497.45" y1="353.29" x2="497.45" y2="367.5" stroke="#808080" stroke-width="1"/>
<line x1="495.55" y1="353.29" x2="499.35" y2="353.29" stroke="#5a5a5a" stroke-width="1"/>
<line x1="495.55" y1="367.5" x2="499.35" y2="367.5" stroke="#5a5a5a" stroke-width="1"/>
<line x1="436.68" y1="403.37" x2="436.68" y2="407.99" stroke="#808080" stroke-width="1"/>
<line x1="434.78" y1="403.37" x2="438.58" y2="403.37" stroke="#5a5a5a" stroke-width="1"/>
<line x1="434.78" y1="407.99" x2="438.58" y2="407.99" stroke="#5a5a5a" stroke-width="1"/>
<line x1="467.07" y1="388.45" x2="467.07" y2="396.27" stroke="#808080" stroke-width="1"/>
<line x1="465.17" y1="388.45" x2="468.97" y2="388.45" stroke="#5a5a5a" stroke-width="1"/>
<line x1="465.17" y1="396.27" x2="468.97" y2="396.27" stroke="#5a5a5a" stroke-width="1"/>
<polyline points="406.3,415.45 436.68,380.82 467.07,365.72 497.45,360.39" fill="none" stroke="#e3211f" stroke-width="1.05"/>
<polygon points="406.3,412.78 408.75,417.08 403.85,417.08" fill="#e3211f"/>
<polygon points="436.68,378.15 439.13,382.45 434.23,382.45" fill="#e3211f"/>
<polygon points="467.07,363.06 469.52,367.36 464.62,367.36" fill="#e3211f"/>
<polygon points="497.45,357.73 499.9,362.03 495,362.03" fill="#e3211f"/>
<polyline points="406.3,408.88 436.68,405.68 467.07,392.36 497.45,412.34" fill="none" stroke="#1f4ea3" stroke-width="1.05"/>
<polygon points="406.3,406.21 408.75,410.51 403.85,410.51" fill="#1f4ea3"/>
<polygon points="436.68,403.02 439.13,407.32 434.23,407.32" fill="#1f4ea3"/>
<polygon points="467.07,389.7 469.52,394 464.62,394" fill="#1f4ea3"/>
<polygon points="497.45,409.68 499.9,413.98 495,413.98" fill="#1f4ea3"/>
<polygon points="394.5,319 397,323.7 392,323.7" fill="#1f4ea3"/>
<text x="405.05" y="323.6" class="lg">hCD4<tspan class="sp" dx="0.5" dy="-2.85">+</tspan><tspan dx="0.2" dy="2.85">PD-1</tspan><tspan class="sp" dx="0.5" dy="-2.85">+</tspan></text>
<polygon points="394.5,330.7 397,335.4 392,335.4" fill="#e3211f"/>
<text x="405.05" y="335.3" class="lg">hCD8<tspan class="sp" dx="0.5" dy="-2.85">+</tspan><tspan dx="0.2" dy="2.85">PD-1</tspan><tspan class="sp" dx="0.5" dy="-2.85">+</tspan></text>
<text transform="translate(10.9,97.6) rotate(-90)" text-anchor="middle" class="yt">Expression (%)</text>
<text transform="translate(360.9,97.6) rotate(-90)" text-anchor="middle" class="yt">Expression (%)</text>
<text transform="translate(10.9,230.6) rotate(-90)" text-anchor="middle" class="yt">Expression (%)</text>
<text transform="translate(360.9,230.7) rotate(-90)" text-anchor="middle" class="yt">Expression (%)</text>
<text transform="translate(10.9,367.75) rotate(-90)" text-anchor="middle" class="yt">Expression (%)</text>
<text transform="translate(360.9,367.75) rotate(-90)" text-anchor="middle" class="yt">Expression (%)</text>
</svg>
</body></html>
